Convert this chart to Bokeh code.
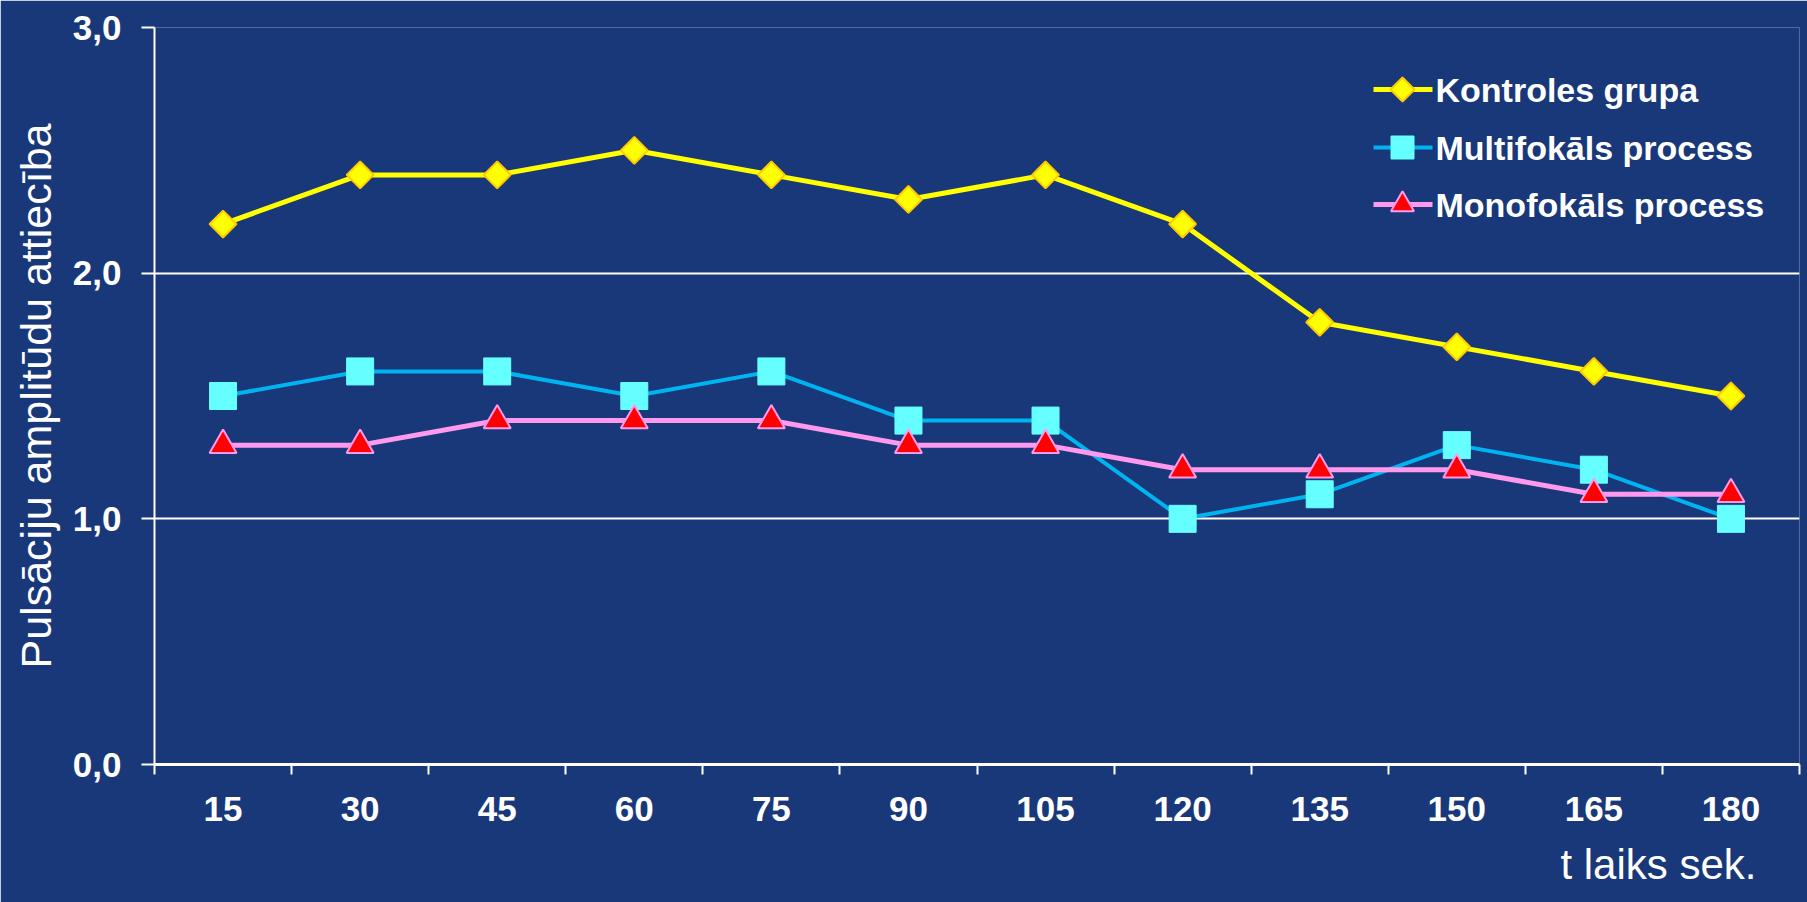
import math
from bokeh.plotting import figure
from bokeh.models import FixedTicker, Range1d, Title
from bokeh.core.properties import value
from bokeh.embed import file_html
from bokeh.resources import INLINE

times = ["15", "30", "45", "60", "75", "90", "105", "120", "135", "150", "165", "180"]
kontroles = [2.2, 2.4, 2.4, 2.5, 2.4, 2.3, 2.4, 2.2, 1.8, 1.7, 1.6, 1.5]
multifokals = [1.5, 1.6, 1.6, 1.5, 1.6, 1.4, 1.4, 1.0, 1.1, 1.3, 1.2, 1.0]
monofokals = [1.3, 1.3, 1.4, 1.4, 1.4, 1.3, 1.3, 1.2, 1.2, 1.2, 1.1, 1.1]
y_ticks = [0, 1, 2, 3]
y_tick_labels = ["0,0", "1,0", "2,0", "3,0"]
series_names = ["Kontroles grupa", "Multifokāls process", "Monofokāls process"]
x_title = "t laiks sek."
y_title = "Pulsāciju amplitūdu attiecība"

BG = "#19387a"
FONT = "Liberation Sans"

W, H = 1807, 902
ML, MR, MT, MB = 154, 8, 27, 138
n = len(times)
xs = [i + 0.5 for i in range(n)]
YMAX = 3.0

p = figure(width=W, height=H, output_backend="svg", toolbar_location=None,
           x_range=Range1d(0, n), y_range=Range1d(0, YMAX),
           min_border_left=ML, min_border_right=MR, min_border_top=MT,
           min_border_bottom=MB)
p.background_fill_color = BG
p.border_fill_color = BG
p.outline_line_color = None

# axes
p.xaxis.ticker = FixedTicker(ticks=xs, minor_ticks=list(range(n + 1)))
p.xaxis.major_label_overrides = {x: t for x, t in zip(xs, times)}
p.xaxis.major_tick_line_color = None
p.xaxis.major_tick_out = 0
p.xaxis.major_tick_in = 0
p.xaxis.minor_tick_line_color = "white"
p.xaxis.minor_tick_line_width = 2
p.xaxis.minor_tick_out = 10
p.xaxis.minor_tick_in = 0
p.xaxis.axis_line_color = "white"
p.xaxis.axis_line_width = 3
p.xaxis.major_label_text_color = "white"
p.xaxis.major_label_text_font = FONT
p.xaxis.major_label_text_font_style = "bold"
p.xaxis.major_label_text_font_size = "35px"
p.xaxis.major_label_standoff = 22

p.yaxis.ticker = FixedTicker(ticks=y_ticks)
p.yaxis.major_label_overrides = {v: t for v, t in zip(y_ticks, y_tick_labels)}
p.yaxis.minor_tick_line_color = None
p.yaxis.major_tick_line_color = "white"
p.yaxis.major_tick_line_width = 2
p.yaxis.major_tick_out = 13
p.yaxis.major_tick_in = 0
p.yaxis.axis_line_color = "white"
p.yaxis.axis_line_width = 2
p.yaxis.major_label_text_color = "white"
p.yaxis.major_label_text_font = FONT
p.yaxis.major_label_text_font_style = "bold"
p.yaxis.major_label_text_font_size = "35px"
p.yaxis.major_label_standoff = 20
p.yaxis.axis_label = y_title
p.yaxis.axis_label_text_color = "white"
p.yaxis.axis_label_text_font = FONT
p.yaxis.axis_label_text_font_style = "normal"
p.yaxis.axis_label_text_font_size = "43px"
p.yaxis.axis_label_standoff = 10

p.xgrid.grid_line_color = None
p.ygrid.ticker = FixedTicker(ticks=[1, 2, 3])
p.ygrid.grid_line_color = "white"
p.ygrid.grid_line_width = 2

# x axis title at the lower right
xt = Title(text=x_title, align="right", text_color="white", text_font=FONT,
           text_font_style="normal", text_font_size="42px", offset=43, standoff=30)
p.add_layout(xt, "below")

# series
styles = [
    dict(line="#ffff00", lw=5, marker="square", angle=math.pi / 4, size=19,
         fill="#ffff00", edge="#ffc800", ew=2, lsize=17),
    dict(line="#00b4f0", lw=4, marker="square", angle=0.0, size=27,
         fill="#66ffff", edge="#66ffff", ew=1, lsize=23),
    dict(line="#ff99ee", lw=5, marker="triangle", angle=0.0, size=27,
         fill="#ff0000", edge="#ff99ee", ew=2, lsize=23),
]
series = [kontroles, multifokals, monofokals]
for vals, st in zip(series, styles):
    p.line(xs, vals, line_color=st["line"], line_width=st["lw"])
    p.scatter(xs, vals, marker=st["marker"], angle=st["angle"], size=st["size"],
              fill_color=st["fill"], line_color=st["edge"], line_width=st["ew"])

# legend drawn inside the frame (pixel layout converted to data units)
fw = W - ML - MR
fh = H - MT - MB
def px2x(px):
    return (px - ML) * n / fw
def px2y(py):
    return (H - MB - py) * YMAX / fh

leg_rows = [89, 147, 204]
for name, row, st in zip(series_names, leg_rows, styles):
    ly = px2y(row)
    p.line([px2x(1373), px2x(1432)], [ly, ly], line_color=st["line"], line_width=st["lw"])
    p.scatter([px2x(1402)], [ly], marker=st["marker"], angle=st["angle"], size=st["lsize"],
              fill_color=st["fill"], line_color=st["edge"], line_width=st["ew"])
    p.text([px2x(1435)], [ly], text=[name], text_color="white",
           text_font=value(FONT), text_font_style="bold", text_font_size="34px",
           text_align="left", text_baseline="middle")

html = file_html(p, INLINE)
html = html.replace("<body>", '<body style="background-color:%s;">' % BG, 1)
open("out.html", "w").write(html)
